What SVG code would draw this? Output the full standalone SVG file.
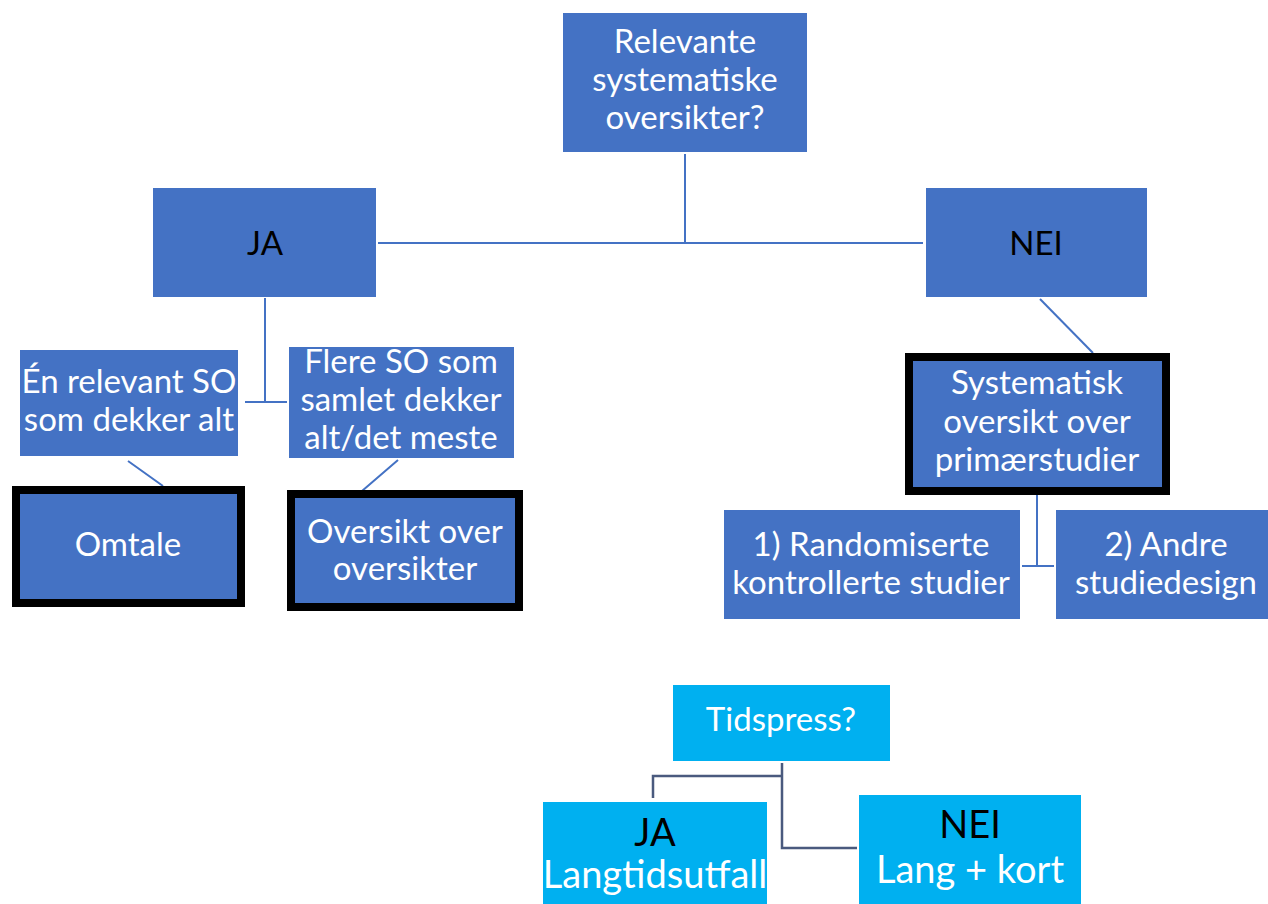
<svg xmlns="http://www.w3.org/2000/svg" width="1268" height="904" viewBox="0 0 1268 904">
<style>
.b{fill:#4472C4}
.c{fill:#00B0F0}
.k{stroke:#000;stroke-width:8}
.t{font-family:Lato,"Liberation Sans",sans-serif;font-size:33px;fill:#fff;text-anchor:middle}
.big{font-size:38px}
.d{fill:#000}
.ln{stroke:#4472C4;stroke-width:2;fill:none}
.ln2{stroke:#4A5A7E;stroke-width:2.5;fill:none}
</style>
<rect width="1268" height="904" fill="#fff"/>
<g id="connectors">
<path class="ln" d="M685 154V243M378 243H923"/>
<path class="ln" d="M265 298V402M245 402H287"/>
<path class="ln" d="M128 461L163 486M398 460L362 491"/>
<path class="ln" d="M1040 299L1093 353"/>
<path class="ln" d="M1037 495V566M1022 566H1054"/>
<path class="ln2" d="M782 763V848H857M782 776H653V798"/>
</g>
<g id="top"><rect class="b" x="563" y="13" width="244" height="139"/>
<text class="t"><tspan x="685" y="53">Relevante</tspan><tspan x="685" y="91">systematiske</tspan><tspan x="685" y="129">oversikter?</tspan></text></g>
<g id="ja"><rect class="b" x="153" y="188" width="223" height="109"/><text class="t d" x="265" y="255">JA</text></g>
<g id="nei"><rect class="b" x="926" y="188" width="221" height="109"/><text class="t d" x="1036" y="255">NEI</text></g>
<g id="en"><rect class="b" x="20" y="350" width="218" height="106"/>
<text class="t"><tspan x="129" y="393">Én relevant SO</tspan><tspan x="129" y="431">som dekker alt</tspan></text></g>
<g id="flere"><rect class="b" x="289" y="347" width="225" height="111"/>
<text class="t"><tspan x="401" y="373">Flere SO som</tspan><tspan x="401" y="411">samlet dekker</tspan><tspan x="401" y="449">alt/det meste</tspan></text></g>
<g id="omtale"><rect class="b k" x="16" y="490" width="225" height="113"/><text class="t" x="128" y="556">Omtale</text></g>
<g id="oversikt"><rect class="b k" x="291" y="494" width="228" height="113"/>
<text class="t"><tspan x="405" y="543">Oversikt over</tspan><tspan x="405" y="580">oversikter</tspan></text></g>
<g id="systematisk"><rect class="b k" x="909" y="357" width="257" height="134"/>
<text class="t"><tspan x="1037" y="394">Systematisk</tspan><tspan x="1037" y="433">oversikt over</tspan><tspan x="1037" y="471">primærstudier</tspan></text></g>
<g id="rct"><rect class="b" x="724" y="510" width="296" height="109"/>
<text class="t"><tspan x="871" y="556">1) Randomiserte</tspan><tspan x="871" y="594">kontrollerte studier</tspan></text></g>
<g id="andre"><rect class="b" x="1056" y="510" width="212" height="109"/>
<text class="t"><tspan x="1166" y="556">2) Andre</tspan><tspan x="1166" y="594">studiedesign</tspan></text></g>
<g id="tidspress"><rect class="c" x="673" y="685" width="217" height="76"/><text class="t" x="781" y="731">Tidspress?</text></g>
<g id="ja2"><rect class="c" x="543" y="802" width="224" height="102"/>
<text class="t big"><tspan class="d" x="655" y="846">JA</tspan><tspan x="655" y="888">Langtidsutfall</tspan></text></g>
<g id="nei2"><rect class="c" x="859" y="795" width="222" height="109"/>
<text class="t big"><tspan class="d" x="970" y="838">NEI</tspan><tspan x="970" y="883">Lang + kort</tspan></text></g>
</svg>
